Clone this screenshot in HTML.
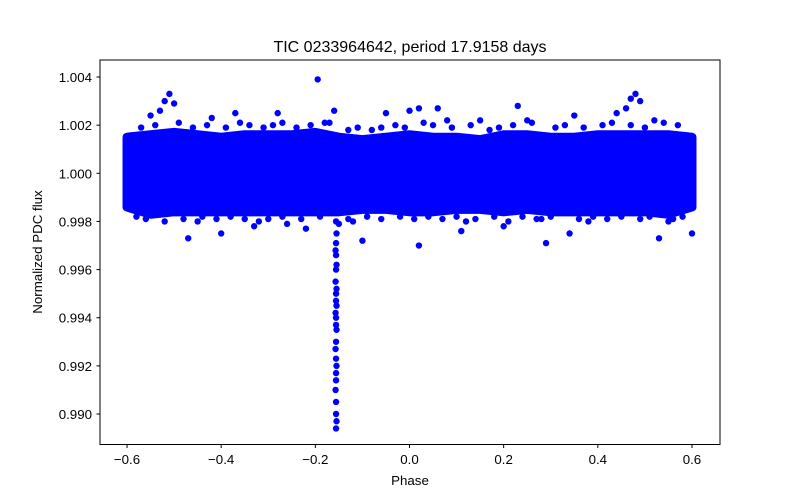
<!DOCTYPE html>
<html><head><meta charset="utf-8"><style>
body{margin:0;background:#fff;}
svg{display:block;font-family:"Liberation Sans","DejaVu Sans",sans-serif;}
</style></head><body>
<svg id="chart" width="800" height="500">
<rect width="800" height="500" fill="#fff"/>
<text x="410" y="52" text-anchor="middle" font-size="16">TIC 0233964642, period 17.9158 days</text>
<g id="plot"></g>
<rect x="100" y="60" width="620" height="384.5" fill="none" stroke="#000" stroke-width="1"/>
<g id="xt"></g>
<g id="yt"></g>
<text x="410" y="485" text-anchor="middle" font-size="13.3">Phase</text>
<text transform="translate(42,252) rotate(-90)" text-anchor="middle" font-size="13.3">Normalized PDC flux</text>
</svg>
<script>
const xTicks=[-0.6,-0.4,-0.2,0.0,0.2,0.4,0.6];
const xTickLabels=["\u22120.6","\u22120.4","\u22120.2","0.0","0.2","0.4","0.6"];
const yTicks=[0.990,0.992,0.994,0.996,0.998,1.000,1.002,1.004];
const yTickLabels=["0.990","0.992","0.994","0.996","0.998","1.000","1.002","1.004"];
const bandPhase=[-0.6,-0.55,-0.5,-0.45,-0.4,-0.35,-0.3,-0.25,-0.2,-0.15,-0.1,-0.05,0,0.05,0.1,0.15,0.2,0.25,0.3,0.35,0.4,0.45,0.5,0.55,0.6];
const bandUpper=[1.0015,1.0016,1.0017,1.0016,1.0015,1.0016,1.0016,1.0016,1.0017,1.0015,1.0014,1.0015,1.0016,1.0015,1.0015,1.0014,1.0016,1.0016,1.0015,1.0015,1.0016,1.0016,1.0016,1.0016,1.0015];
const bandLower=[0.9986,0.9983,0.9984,0.9984,0.9984,0.9984,0.9984,0.9984,0.9984,0.9984,0.9985,0.9985,0.9984,0.9984,0.9985,0.9985,0.9984,0.9985,0.9984,0.9984,0.9984,0.9984,0.9984,0.9983,0.9986];
const outPhase=[-0.51,-0.52,-0.50,-0.53,-0.55,-0.195,-0.16,0.0,0.02,0.06,0.23,0.48,0.47,0.49,0.46,0.44,-0.37,-0.28,-0.47,-0.40,-0.33,-0.10,0.02,0.11,0.29,0.34,0.53,0.60,-0.22,0.20,-0.26,-0.45,-0.32,-0.12,0.12,0.38,0.28,0.55,-0.58,0.35,-0.05,0.15,-0.42,0.08,0.25,-0.17,0.52,-0.15];
const outFlux=[1.0033,1.0030,1.0029,1.0026,1.0024,1.0039,1.0026,1.0026,1.0027,1.0027,1.0028,1.0033,1.0031,1.0030,1.0027,1.0025,1.0025,1.0025,0.9973,0.9975,0.9978,0.9972,0.9970,0.9976,0.9971,0.9975,0.9973,0.9975,0.9977,0.9978,0.9979,0.9980,0.9980,0.9980,0.9980,0.9980,0.9981,0.9980,0.9982,1.0024,1.0025,1.0022,1.0023,1.0022,1.0022,1.0021,1.0022,0.9979];
const edgePhase=[-0.57,-0.54,-0.49,-0.46,-0.43,-0.39,-0.36,-0.34,-0.31,-0.29,-0.27,-0.24,-0.21,-0.18,-0.13,-0.11,-0.08,-0.06,-0.03,-0.01,0.03,0.05,0.09,0.13,0.17,0.19,0.22,0.26,0.31,0.33,0.37,0.41,0.43,0.47,0.5,0.54,0.57,
 -0.56,-0.52,-0.48,-0.44,-0.41,-0.38,-0.35,-0.3,-0.27,-0.23,-0.19,-0.13,-0.09,-0.06,-0.02,0.01,0.04,0.07,0.1,0.14,0.18,0.21,0.24,0.27,0.3,0.36,0.39,0.42,0.45,0.49,0.51,0.56,0.58];
const edgeFlux=[1.0019,1.0020,1.0021,1.0019,1.0020,1.0019,1.0021,1.0020,1.0019,1.0020,1.0021,1.0019,1.0020,1.0021,1.0018,1.0019,1.0018,1.0019,1.0020,1.0019,1.0021,1.0020,1.0019,1.0020,1.0018,1.0019,1.0020,1.0021,1.0019,1.0020,1.0019,1.0020,1.0021,1.0020,1.0019,1.0021,1.0020,
 0.9981,0.9980,0.9981,0.9982,0.9981,0.9982,0.9981,0.9981,0.9982,0.9981,0.9982,0.9981,0.9982,0.9981,0.9982,0.9981,0.9982,0.9981,0.9982,0.9981,0.9982,0.9980,0.9982,0.9981,0.9982,0.9981,0.9982,0.9981,0.9982,0.9981,0.9982,0.9981,0.9982];
const trPhase=[-0.156,-0.155,-0.156,-0.157,-0.156,-0.155,-0.156,-0.157,-0.155,-0.156,-0.156,-0.155,-0.157,-0.156,-0.156,-0.155,-0.156,-0.157,-0.156,-0.155,-0.156,-0.156,-0.157,-0.156,-0.156,-0.155,-0.156];
const trFlux=[0.9980,0.9975,0.9971,0.9968,0.9966,0.9962,0.9960,0.9955,0.9952,0.9950,0.9947,0.9945,0.9942,0.9940,0.9937,0.9935,0.9930,0.9927,0.9923,0.9920,0.9917,0.9914,0.9910,0.9905,0.9900,0.9897,0.9894];
const X=p=>409.5+(p)*470.8;
const Y=f=>173.3-(f-1.0)*24071;
const NS="http://www.w3.org/2000/svg";
const plot=document.getElementById('plot');
let pts=[];
for(let i=0;i<bandPhase.length;i++)pts.push(X(bandPhase[i])+','+Y(bandUpper[i]));
for(let i=bandPhase.length-1;i>=0;i--)pts.push(X(bandPhase[i])+','+Y(bandLower[i]));
const band=document.createElementNS(NS,'polygon');
band.setAttribute('points',pts.join(' '));
band.setAttribute('fill','#0000ff');band.setAttribute('stroke','#0000ff');
band.setAttribute('stroke-width','9');band.setAttribute('stroke-linejoin','round');


plot.appendChild(band);
function dot(p,f,name){
 const c=document.createElementNS(NS,'circle');
 c.setAttribute('cx',X(p));c.setAttribute('cy',Y(f));c.setAttribute('r','3.2');c.setAttribute('fill','#0000ff');
 
 
 plot.appendChild(c);
}
for(let i=0;i<edgePhase.length;i++)dot(edgePhase[i],edgeFlux[i],'edge-point');
for(let i=0;i<outPhase.length;i++)dot(outPhase[i],outFlux[i],'outlier-point');
for(let i=0;i<trPhase.length;i++)dot(trPhase[i],trFlux[i],'transit-point');
const xt=document.getElementById('xt');
xTicks.forEach((t,i)=>{
 const l=document.createElementNS(NS,'line');
 l.setAttribute('x1',X(t));l.setAttribute('x2',X(t));l.setAttribute('y1',444.5);l.setAttribute('y2',448);l.setAttribute('stroke','#000');
 
 
 xt.appendChild(l);
 const tx=document.createElementNS(NS,'text');
 tx.setAttribute('x',X(t));tx.setAttribute('y',464);tx.setAttribute('text-anchor','middle');tx.setAttribute('font-size','13.3');
 tx.textContent=xTickLabels[i];
 
 
 xt.appendChild(tx);
});
const yt=document.getElementById('yt');
yTicks.forEach((t,i)=>{
 const l=document.createElementNS(NS,'line');
 l.setAttribute('x1',96.5);l.setAttribute('x2',100);l.setAttribute('y1',Y(t));l.setAttribute('y2',Y(t));l.setAttribute('stroke','#000');
 
 
 yt.appendChild(l);
 const tx=document.createElementNS(NS,'text');
 tx.setAttribute('x',92);tx.setAttribute('y',Y(t)+5);tx.setAttribute('text-anchor','end');tx.setAttribute('font-size','13.3');
 tx.textContent=yTickLabels[i];
 
 
 yt.appendChild(tx);
});
</script>
</body></html>
